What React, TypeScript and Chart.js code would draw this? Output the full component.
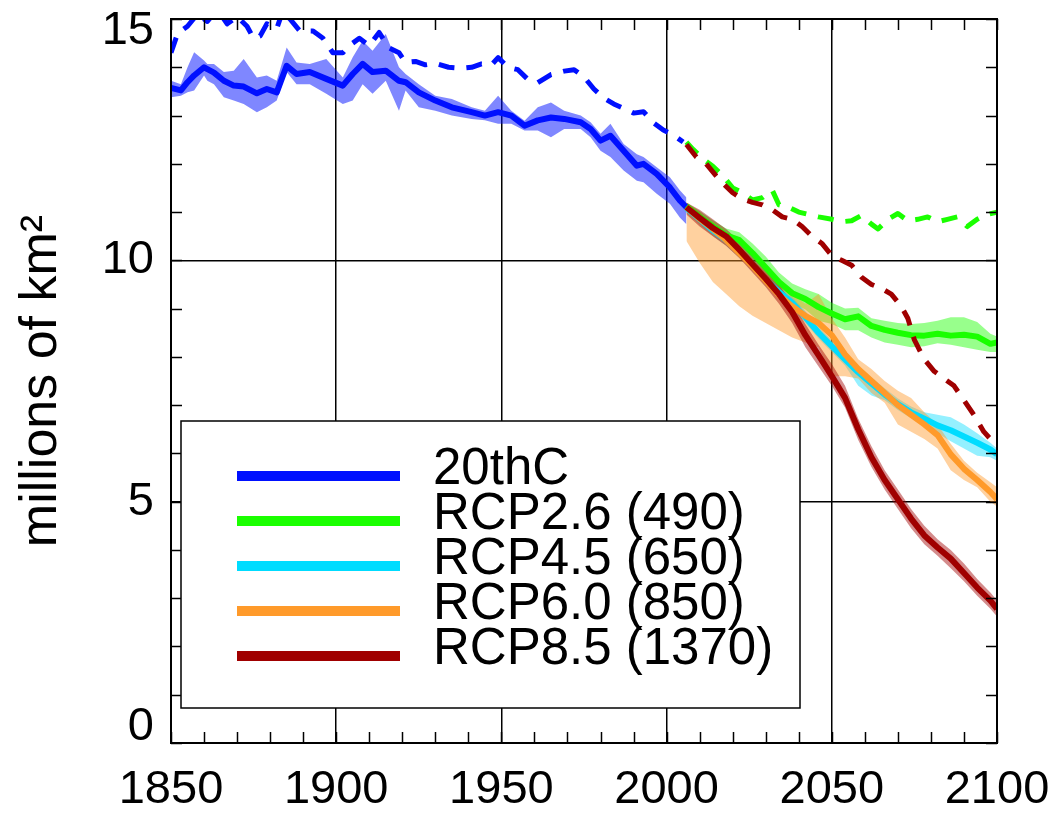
import React, { useEffect, useRef } from "react";
import { Chart, registerables } from "chart.js";

Chart.register(...registerables);

// ---------- data ----------
const histYears = [1850, 1853, 1855, 1857, 1860, 1861, 1863, 1866, 1869, 1872, 1876, 1879, 1882, 1885, 1888, 1892, 1897, 1902, 1905, 1908, 1911, 1915, 1919, 1921, 1925, 1930, 1935, 1941, 1945, 1949, 1953, 1957, 1961, 1965, 1969, 1974, 1977, 1980, 1983, 1987, 1991, 1993, 1997, 2001, 2004, 2006];
const histMean = [13.57, 13.52, 13.69, 13.83, 14.0, 13.96, 13.89, 13.72, 13.62, 13.6, 13.46, 13.55, 13.48, 14.03, 13.86, 13.9, 13.76, 13.62, 13.86, 14.07, 13.9, 13.93, 13.72, 13.69, 13.48, 13.31, 13.17, 13.07, 13.0, 13.07, 13.0, 12.79, 12.9, 12.96, 12.93, 12.86, 12.72, 12.48, 12.58, 12.27, 11.96, 12.0, 11.79, 11.51, 11.24, 11.1];
const histUpper = [13.72, 13.65, 14.0, 14.31, 14.14, 14.07, 14.07, 13.9, 13.93, 14.17, 13.79, 13.83, 13.72, 14.41, 14.1, 14.07, 14.17, 13.79, 14.21, 14.55, 14.34, 14.69, 14.0, 13.86, 13.65, 13.41, 13.34, 13.17, 13.1, 13.41, 13.1, 12.89, 13.17, 13.27, 13.1, 13.0, 12.86, 12.62, 12.83, 12.41, 12.2, 12.14, 11.93, 11.72, 11.45, 11.3];
const histLower = [13.38, 13.41, 13.48, 13.52, 13.83, 13.72, 13.65, 13.38, 13.31, 13.24, 13.07, 13.17, 13.31, 13.9, 13.65, 13.65, 13.45, 13.24, 13.31, 13.65, 13.45, 13.72, 13.1, 13.52, 13.17, 13.1, 13.0, 12.93, 12.9, 12.83, 12.83, 12.69, 12.69, 12.55, 12.72, 12.72, 12.55, 12.27, 12.14, 11.86, 11.65, 11.62, 11.38, 11.17, 10.89, 10.75];

const histDashYears = [1850, 1852, 1855, 1858, 1861, 1864, 1867, 1870, 1873, 1875, 1877, 1879, 1882, 1884, 1886, 1889, 1893, 1896, 1899, 1902, 1904, 1907, 1910, 1913, 1916, 1919, 1921, 1924, 1927, 1930, 1934, 1938, 1941, 1944, 1947, 1949, 1952, 1955, 1958, 1961, 1965, 1969, 1972, 1975, 1978, 1981, 1984, 1987, 1990, 1993, 1996, 1999, 2002, 2005];
const histDash = [14.3, 14.7, 14.85, 15.1, 14.95, 15.2, 14.9, 15.05, 14.85, 14.6, 14.65, 14.9, 14.8, 15.2, 15.0, 14.75, 14.75, 14.6, 14.3, 14.3, 14.45, 14.6, 14.45, 14.72, 14.4, 14.3, 14.1, 14.12, 14.05, 14.08, 14.0, 13.98, 14.0, 14.07, 14.05, 14.2, 14.0, 13.95, 13.75, 13.68, 13.85, 13.92, 13.95, 13.8, 13.55, 13.36, 13.24, 13.15, 13.05, 13.08, 12.85, 12.7, 12.6, 12.45];

const futYears = [2006, 2010, 2014, 2018, 2022, 2026, 2030, 2034, 2038, 2042, 2046, 2050, 2054, 2058, 2062, 2066, 2070, 2074, 2078, 2082, 2086, 2090, 2094, 2098, 2100];

const rcp26Mean = [11.12, 10.9, 10.7, 10.52, 10.42, 10.15, 9.85, 9.55, 9.32, 9.2, 9.03, 8.9, 8.78, 8.84, 8.64, 8.56, 8.5, 8.45, 8.44, 8.48, 8.44, 8.46, 8.42, 8.27, 8.3];
const rcp26Upper = [11.2, 11.02, 10.83, 10.66, 10.58, 10.35, 10.08, 9.75, 9.52, 9.4, 9.3, 9.12, 9.0, 9.02, 8.8, 8.75, 8.7, 8.68, 8.7, 8.75, 8.82, 8.82, 8.72, 8.48, 8.42];
const rcp26Lower = [11.0, 10.78, 10.58, 10.4, 10.25, 9.98, 9.7, 9.38, 9.12, 8.98, 8.75, 8.68, 8.55, 8.55, 8.4, 8.3, 8.25, 8.2, 8.22, 8.28, 8.25, 8.2, 8.15, 8.1, 8.1];

const rcp45Mean = [11.08, 10.85, 10.62, 10.42, 10.18, 9.9, 9.6, 9.35, 9.12, 8.82, 8.5, 8.22, 7.95, 7.68, 7.45, 7.22, 7.02, 6.85, 6.72, 6.58, 6.48, 6.35, 6.22, 6.08, 5.98];
const rcp45Upper = [11.18, 10.96, 10.73, 10.53, 10.3, 10.02, 9.72, 9.47, 9.24, 8.95, 8.62, 8.34, 8.08, 7.8, 7.58, 7.35, 7.14, 6.97, 6.85, 6.8, 6.75, 6.6, 6.42, 6.22, 6.1];
const rcp45Lower = [10.98, 10.74, 10.5, 10.3, 10.05, 9.78, 9.48, 9.22, 9.0, 8.7, 8.38, 8.1, 7.82, 7.4, 7.2, 7.1, 6.9, 6.73, 6.6, 6.42, 6.25, 6.1, 5.95, 5.92, 5.85];

const rcp60Mean = [11.1, 10.86, 10.65, 10.42, 10.15, 9.88, 9.58, 9.28, 9.05, 8.85, 8.7, 8.45, 8.05, 7.75, 7.5, 7.25, 7.0, 6.8, 6.6, 6.38, 5.98, 5.68, 5.45, 5.2, 5.05];
const rcp60Upper = [11.2, 11.0, 10.75, 10.5, 10.25, 10.0, 9.75, 9.52, 9.3, 9.1, 9.3, 8.8, 8.4, 7.95, 7.75, 7.5, 7.3, 7.15, 6.85, 6.6, 6.2, 5.85, 5.6, 5.4, 5.3];
const rcp60Lower = [10.4, 9.95, 9.55, 9.3, 9.05, 8.85, 8.7, 8.55, 8.4, 8.3, 8.2, 7.6, 7.6, 7.55, 7.25, 7.05, 6.6, 6.45, 6.3, 6.1, 5.65, 5.45, 5.3, 5.0, 4.9];

const rcp85Mean = [11.1, 10.88, 10.67, 10.5, 10.22, 9.92, 9.62, 9.3, 8.93, 8.45, 8.03, 7.6, 7.15, 6.5, 5.92, 5.45, 5.05, 4.65, 4.3, 4.05, 3.82, 3.52, 3.22, 2.95, 2.78];
const rcp85Upper = [11.2, 11.05, 10.85, 10.65, 10.4, 10.1, 9.8, 9.5, 9.12, 8.68, 8.25, 7.85, 7.4, 6.72, 6.15, 5.65, 5.25, 4.85, 4.5, 4.22, 4.0, 3.72, 3.4, 3.12, 2.95];
const rcp85Lower = [10.95, 10.7, 10.5, 10.3, 10.05, 9.75, 9.45, 9.1, 8.7, 8.2, 7.8, 7.4, 6.95, 6.28, 5.72, 5.25, 4.85, 4.45, 4.12, 3.88, 3.62, 3.35, 3.05, 2.78, 2.62];

const rcp26DashYears = [2006, 2008, 2011, 2014, 2017, 2020, 2023, 2026, 2029, 2032, 2034, 2037, 2040, 2043, 2046, 2050, 2053, 2056, 2059, 2062, 2064, 2067, 2070, 2073, 2076, 2079, 2082, 2085, 2088, 2091, 2094, 2097, 2100];
const rcp26Dash = [12.45, 12.3, 12.1, 11.95, 11.75, 11.5, 11.4, 11.25, 11.3, 11.45, 11.15, 11.1, 11.0, 10.95, 10.9, 10.85, 10.8, 10.82, 10.93, 10.75, 10.65, 10.85, 10.97, 10.82, 10.85, 10.9, 10.8, 10.85, 10.9, 10.7, 10.85, 10.95, 11.0];

const rcp85DashYears = [2006, 2009, 2012, 2015, 2017, 2020, 2023, 2026, 2029, 2032, 2035, 2038, 2041, 2044, 2047, 2050, 2053, 2056, 2059, 2062, 2065, 2068, 2071, 2073, 2075, 2078, 2081, 2084, 2087, 2090, 2093, 2096, 2100];
const rcp85Dash = [12.4, 12.14, 12.0, 11.75, 11.6, 11.4, 11.27, 11.2, 11.15, 11.05, 10.9, 10.85, 10.7, 10.5, 10.35, 10.1, 10.0, 9.9, 9.65, 9.5, 9.42, 9.3, 9.05, 8.8, 8.35, 7.95, 7.7, 7.55, 7.4, 7.1, 6.8, 6.45, 6.15];

const seriesNames = ["20thC", "RCP2.6 (490)", "RCP4.5 (650)", "RCP6.0 (850)", "RCP8.5 (1370)"];
const seriesColors = ["#0010ff", "#1aff00", "#00dcff", "#ff9a2a", "#a00000"];
const bandColors = ["rgba(0,16,255,0.5)", "rgba(26,255,0,0.45)", "rgba(0,220,255,0.42)", "rgba(255,154,42,0.45)", "rgba(160,0,0,0.45)"];

const xMin = 1850;
const xMax = 2100;
const xStep = 50;
const xMinorStep = 10;
const yMin = 0;
const yMax = 15;
const yStep = 5;
const yMinorStep = 1;
const yTickLabels = [0, 5, 10, 15];
const yTitle = "millions of km²";

const FONT = "'Liberation Sans', Arial, Helvetica, sans-serif";

const pts = (xs: number[], ys: number[]) => xs.map((x, i) => ({ x, y: ys[i] }));

function band(xs: number[], hi: number[], lo: number[], color: string, order: number) {
  return [
    { data: pts(xs, hi), fill: "+1", backgroundColor: color, borderColor: "transparent", borderWidth: 0, pointRadius: 0, order, clip: 0 },
    { data: pts(xs, lo), fill: false, borderColor: "transparent", borderWidth: 0, pointRadius: 0, order, clip: 0 },
  ];
}

function line(xs: number[], ys: number[], color: string, order: number, dashed = false) {
  return {
    data: pts(xs, ys),
    borderColor: color,
    borderWidth: dashed ? 5 : 6,
    borderDash: dashed ? [16, 12] : [],
    fill: false,
    pointRadius: 0,
    order,
    clip: 0,
    borderCapStyle: "butt",
    borderJoinStyle: "round",
  };
}

const decorPlugin = {
  id: "decor",
  afterDraw(chart: any) {
    const { ctx, chartArea: a, scales } = chart;
    const x = scales.x;
    const y = scales.y;
    ctx.save();
    ctx.strokeStyle = "#000";
    ctx.lineWidth = 1.5;
    ctx.beginPath();
    for (let yr = xMin; yr <= xMax; yr += xMinorStep) {
      const px = Math.round(x.getPixelForValue(yr)) + 0.5;
      ctx.moveTo(px, a.bottom);
      ctx.lineTo(px, a.bottom - 11);
      ctx.moveTo(px, a.top);
      ctx.lineTo(px, a.top + 11);
    }
    for (let v = yMin; v <= yMax; v += yMinorStep) {
      const py = Math.round(y.getPixelForValue(v)) + 0.5;
      ctx.moveTo(a.left, py);
      ctx.lineTo(a.left + 11, py);
      ctx.moveTo(a.right, py);
      ctx.lineTo(a.right - 11, py);
    }
    ctx.stroke();
    ctx.lineWidth = 2;
    ctx.strokeRect(a.left, a.top, a.right - a.left, a.bottom - a.top);

    // y tick labels
    ctx.fillStyle = "#000";
    ctx.font = `47px ${FONT}`;
    ctx.textAlign = "right";
    ctx.textBaseline = "middle";
    for (const v of yTickLabels) {
      let py = y.getPixelForValue(v);
      if (v === yMax) py += 12;
      if (v === yMin) py -= 16;
      ctx.fillText(String(v), a.left - 17, py);
    }

    // legend
    const bx = 181, by = 421, bw = 619, bh = 287;
    ctx.fillStyle = "#fff";
    ctx.fillRect(bx, by, bw, bh);
    ctx.lineWidth = 1.5;
    ctx.strokeStyle = "#000";
    ctx.strokeRect(bx, by, bw, bh);
    ctx.font = `51px ${FONT}`;
    ctx.textAlign = "left";
    ctx.textBaseline = "alphabetic";
    seriesNames.forEach((name, i) => {
      const ly = 476 + i * 45;
      ctx.strokeStyle = seriesColors[i];
      ctx.lineWidth = 10;
      ctx.beginPath();
      ctx.moveTo(237, ly);
      ctx.lineTo(400, ly);
      ctx.stroke();
      ctx.fillStyle = "#000";
      ctx.fillText(name, 433, ly + 8);
    });
    ctx.restore();
  },
};

export default function App() {
  const ref = useRef<HTMLCanvasElement | null>(null);
  useEffect(() => {
    document.body.style.margin = "0";
    const canvas = ref.current;
    if (!canvas) return;
    const datasets: any[] = [
      line(histDashYears, histDash, seriesColors[0], 3, true),
      line(rcp26DashYears, rcp26Dash, seriesColors[1], 2, true),
      line(rcp85DashYears, rcp85Dash, seriesColors[4], 1, true),
      line(histYears, histMean, seriesColors[0], 50),
      line(futYears, rcp26Mean, seriesColors[1], 49),
      line(futYears, rcp45Mean, seriesColors[2], 48),
      line(futYears, rcp60Mean, seriesColors[3], 47),
      line(futYears, rcp85Mean, seriesColors[4], 46),
      ...band(histYears, histUpper, histLower, bandColors[0], 100),
      ...band(futYears, rcp26Upper, rcp26Lower, bandColors[1], 99),
      ...band(futYears, rcp45Upper, rcp45Lower, bandColors[2], 98),
      ...band(futYears, rcp60Upper, rcp60Lower, bandColors[3], 97),
      ...band(futYears, rcp85Upper, rcp85Lower, bandColors[4], 96),
    ];
    const chart = new Chart(canvas, {
      type: "line",
      data: { datasets },
      options: {
        animation: false,
        responsive: false,
        devicePixelRatio: 1,
        layout: { padding: { top: 19, right: 59, left: 0, bottom: 0 } },
        plugins: { legend: { display: false }, tooltip: { enabled: false } },
        elements: { line: { tension: 0 } },
        scales: {
          x: {
            type: "linear",
            min: xMin,
            max: xMax,
            ticks: {
              stepSize: xStep,
              color: "#000",
              font: { family: FONT, size: 47 },
              padding: 19,
              maxRotation: 0,
              autoSkip: false,
              callback: (v: any) => String(v),
            },
            grid: { color: "#000", lineWidth: 1.5, drawTicks: false },
            border: { display: false },
            afterFit: (s: any) => {
              s.height = 71;
              s.paddingLeft = 0;
              s.paddingRight = 0;
            },
          },
          y: {
            type: "linear",
            min: yMin,
            max: yMax,
            ticks: { stepSize: yStep, display: false },
            grid: { color: "#000", lineWidth: 1.5, drawTicks: false },
            border: { display: false },
            title: { display: true, text: yTitle, color: "#000", font: { family: FONT, size: 52 }, padding: { top: 10, bottom: 0 } },
            afterFit: (s: any) => {
              s.width = 171;
              s.paddingTop = 0;
              s.paddingBottom = 0;
            },
          },
        },
      },
      plugins: [decorPlugin],
    });
    return () => chart.destroy();
  }, []);
  return (
    <div style={{ width: 1056, height: 814 }}>
      <canvas ref={ref} width={1056} height={814} style={{ display: "block", width: 1056, height: 814 }} />
    </div>
  );
}
